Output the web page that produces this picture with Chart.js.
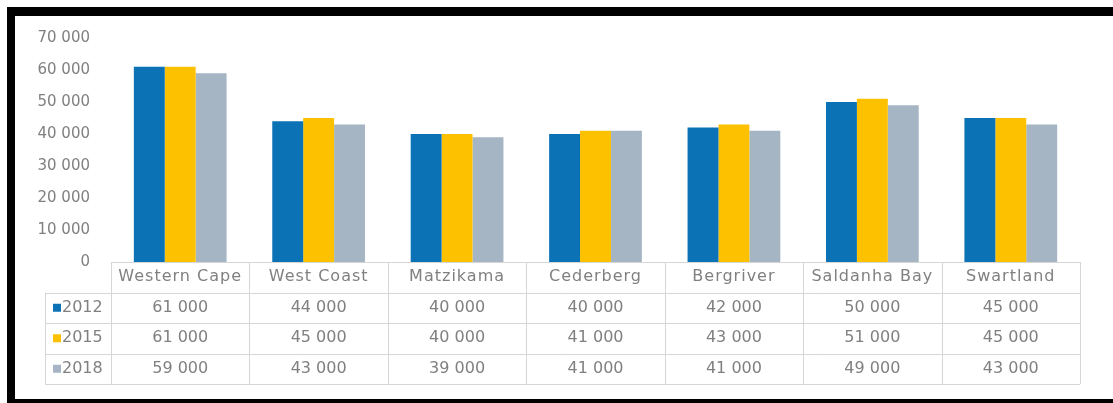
<!DOCTYPE html>
<html>
<head>
<meta charset="utf-8">
<script src="https://cdn.jsdelivr.net/npm/chart.js@4.4.1/dist/chart.umd.min.js"></script>
<style>
  html, body { margin: 0; padding: 0; background: #fff; overflow: hidden; }
  #frame {
    position: absolute;
    left: 7px;
    top: 7px;
    width: 1098px;
    height: 383px;
    border-left: 8px solid #000;
    border-top: 9px solid #000;
    border-bottom: 4px solid #000;
  }
  #incomeChart { display: block; }
</style>
</head>
<body>
<div id="frame">
  <canvas id="incomeChart" width="1098" height="383"></canvas>
</div>
<script>
const categories = ["Western Cape", "West Coast", "Matzikama", "Cederberg", "Bergriver", "Saldanha Bay", "Swartland"];
const years = ["2012", "2015", "2018"];
const values2012 = [61000, 44000, 40000, 40000, 42000, 50000, 45000];
const values2015 = [61000, 45000, 40000, 41000, 43000, 51000, 45000];
const values2018 = [59000, 43000, 39000, 41000, 41000, 49000, 43000];
const yMax = 70000;
const yStep = 10000;

const colors = ["#0b72b5", "#fdc100", "#a5b5c3"];
const textColor = "#808080";
const lineColor = "#d6d6d6";
const fontFamily = "'DejaVu Sans', sans-serif";

// 61000 -> "61 000"
function fmt(n) {
  return String(n).replace(/\B(?=(\d{3})+(?!\d))/g, " ");
}

// data table under the bars, columns follow the x scale
const dataTable = {
  id: "dataTable",
  afterDraw(chart) {
    const ctx = chart.ctx;
    const x = chart.scales.x;
    const rows = [values2012, values2015, values2018];
    const colW = (x.right - x.left) / categories.length;
    const labelW = 66;
    const rowH = 30.5;
    const top = chart.chartArea.bottom;
    const bottom = top + rowH * (rows.length + 1);

    ctx.save();
    ctx.strokeStyle = lineColor;
    ctx.lineWidth = 1;
    ctx.beginPath();
    ctx.moveTo(x.left, top + 0.5);
    ctx.lineTo(x.right, top + 0.5);
    for (let r = 1; r <= rows.length + 1; r++) {
      const y = Math.round(top + rowH * r) + 0.5;
      ctx.moveTo(x.left - labelW, y);
      ctx.lineTo(x.right, y);
    }
    ctx.moveTo(x.left - labelW + 0.5, top + rowH);
    ctx.lineTo(x.left - labelW + 0.5, bottom);
    for (let c = 0; c <= categories.length; c++) {
      const cx = Math.round(x.left + colW * c) + 0.5;
      ctx.moveTo(cx, top);
      ctx.lineTo(cx, bottom);
    }
    ctx.stroke();

    ctx.fillStyle = textColor;
    ctx.font = "16px " + fontFamily;
    ctx.textAlign = "center";
    ctx.textBaseline = "middle";
    ctx.letterSpacing = "1px";
    categories.forEach((cat, i) => {
      ctx.fillText(cat, x.left + colW * (i + 0.5), top + rowH / 2);
    });
    ctx.letterSpacing = "0px";
    rows.forEach((vals, r) => {
      const cy = top + rowH * (r + 1.5);
      vals.forEach((v, i) => {
        ctx.fillText(fmt(v), x.left + colW * (i + 0.5), cy);
      });
      ctx.fillStyle = colors[r];
      ctx.fillRect(x.left - labelW + 8, cy - 4, 8, 8);
      ctx.fillStyle = textColor;
      ctx.textAlign = "left";
      ctx.fillText(years[r], x.left - labelW + 17, cy);
      ctx.textAlign = "center";
    });
    ctx.restore();
  }
};

new Chart(document.getElementById("incomeChart"), {
  type: "bar",
  data: {
    labels: categories,
    datasets: [
      { label: years[0], data: values2012, backgroundColor: colors[0] },
      { label: years[1], data: values2015, backgroundColor: colors[1] },
      { label: years[2], data: values2018, backgroundColor: colors[2] }
    ]
  },
  options: {
    responsive: false,
    animation: false,
    layout: { padding: { left: 0, top: 22, right: 33, bottom: 137 } },
    datasets: { bar: { categoryPercentage: 0.67, barPercentage: 1, borderWidth: 0 } },
    plugins: { legend: { display: false }, tooltip: { enabled: false } },
    scales: {
      x: { display: false },
      y: {
        min: 0,
        max: yMax,
        afterFit(scale) { scale.width = 96; },
        // tick marks are hidden, their length just spaces the labels off the bars
        grid: { display: false, drawTicks: true, tickLength: 21 },
        border: { display: false },
        ticks: {
          stepSize: yStep,
          padding: 0,
          color: textColor,
          font: { family: fontFamily, size: 15 },
          callback: (v) => fmt(v)
        }
      }
    }
  },
  plugins: [dataTable]
});
</script>
</body>
</html>
